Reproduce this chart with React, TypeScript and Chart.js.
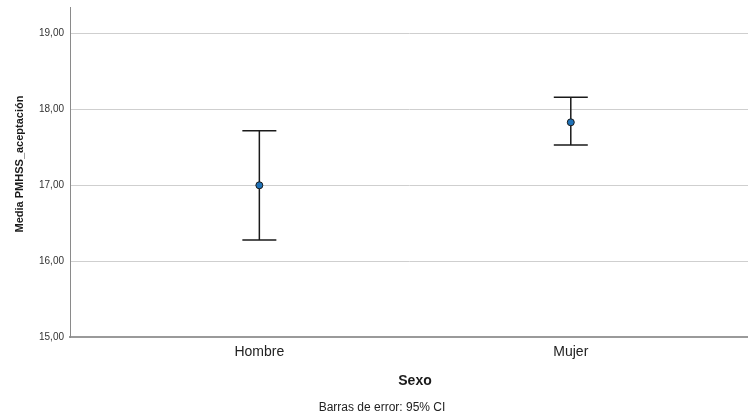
import React, { useEffect, useRef } from "react";
import { Chart, registerables } from "chart.js";

Chart.register(...registerables);

const categories = ["Hombre", "Mujer"];
const means = [17.0, 17.83];
const lowerCI = [16.28, 17.53];
const upperCI = [17.72, 18.16];
const yTicks = [15, 16, 17, 18, 19];

const FONT = "'Liberation Sans', Arial, sans-serif";

export default function App() {
  const ref = useRef<HTMLCanvasElement | null>(null);

  useEffect(() => {
    if (!ref.current) return;

    const errorBars = {
      id: "errorBars",
      beforeDatasetsDraw(chart: any) {
        const { ctx, scales } = chart;
        const xs = scales.x;
        const ys = scales.y;
        ctx.save();
        ctx.strokeStyle = "#1a1a1a";
        ctx.lineWidth = 1.5;
        categories.forEach((_, i) => {
          const x = xs.getPixelForValue(i + 1);
          const yl = ys.getPixelForValue(lowerCI[i]);
          const yu = ys.getPixelForValue(upperCI[i]);
          ctx.beginPath();
          ctx.moveTo(x, yl);
          ctx.lineTo(x, yu);
          ctx.moveTo(x - 17, yl);
          ctx.lineTo(x + 17, yl);
          ctx.moveTo(x - 17, yu);
          ctx.lineTo(x + 17, yu);
          ctx.stroke();
        });
        ctx.restore();
      },
      afterDraw(chart: any) {
        const { ctx } = chart;
        ctx.save();
        ctx.fillStyle = "#1a1a1a";
        ctx.textAlign = "center";
        ctx.textBaseline = "middle";
        ctx.font = `bold 14px ${FONT}`;
        ctx.fillText("Sexo", 415, 381);
        ctx.font = `12px ${FONT}`;
        ctx.fillStyle = "#222";
        ctx.fillText("Barras de error: 95% CI", 382, 408);
        ctx.translate(20, 164);
        ctx.rotate(-Math.PI / 2);
        ctx.font = `bold 11px ${FONT}`;
        ctx.fillStyle = "#1a1a1a";
        ctx.fillText("Media PMHSS_aceptación", 0, 0);
        ctx.restore();
      },
    };

    const chart = new Chart(ref.current, {
      type: "scatter",
      data: {
        datasets: [
          {
            data: categories.map((_, i) => ({ x: i + 1, y: means[i] })),
            backgroundColor: "#1f72b8",
            borderColor: "#1a1a1a",
            borderWidth: 1,
            pointRadius: 3.5,
          },
        ],
      },
      options: {
        animation: false,
        responsive: false,
        maintainAspectRatio: false,
        layout: { autoPadding: false, padding: { top: 7, right: 0, left: 0, bottom: 0 } },
        plugins: {
          legend: { display: false },
          tooltip: { enabled: false },
        },
        scales: {
          x: {
            type: "linear",
            min: 0.392,
            max: 2.569,
            afterBuildTicks: (s: any) => {
              s.ticks = categories.map((_, i) => ({ value: i + 1 }));
            },
            afterFit: (s: any) => {
              s.height = 82;
              s.paddingLeft = 0;
              s.paddingRight = 0;
            },
            ticks: {
              callback: (v: any) => categories[Math.round(v) - 1] ?? "",
              font: { family: FONT, size: 14 },
              color: "#222",
              padding: 7,
              maxRotation: 0,
              autoSkip: false,
            },
            grid: { display: false, drawTicks: false },
            border: { color: "#9a9a9a", width: 2 },
          },
          y: {
            min: 15,
            max: 19.35,
            afterBuildTicks: (s: any) => {
              s.ticks = yTicks.map((v) => ({ value: v }));
            },
            afterFit: (s: any) => {
              s.width = 70;
              s.paddingTop = 0;
              s.paddingBottom = 0;
            },
            ticks: {
              callback: (v: any) => Number(v).toFixed(2).replace(".", ","),
              font: { family: FONT, size: 10 },
              color: "#333",
              padding: 6,
            },
            grid: { color: "#cfcfcf", lineWidth: 1, drawTicks: false },
            border: { color: "#8a8a8a", width: 1 },
          },
        },
      },
      plugins: [errorBars],
    });

    return () => chart.destroy();
  }, []);

  return (
    <div style={{ position: "absolute", left: 0, top: 0, width: 748, height: 419, background: "#fff" }}>
      <canvas ref={ref} width={748} height={419} />
    </div>
  );
}
